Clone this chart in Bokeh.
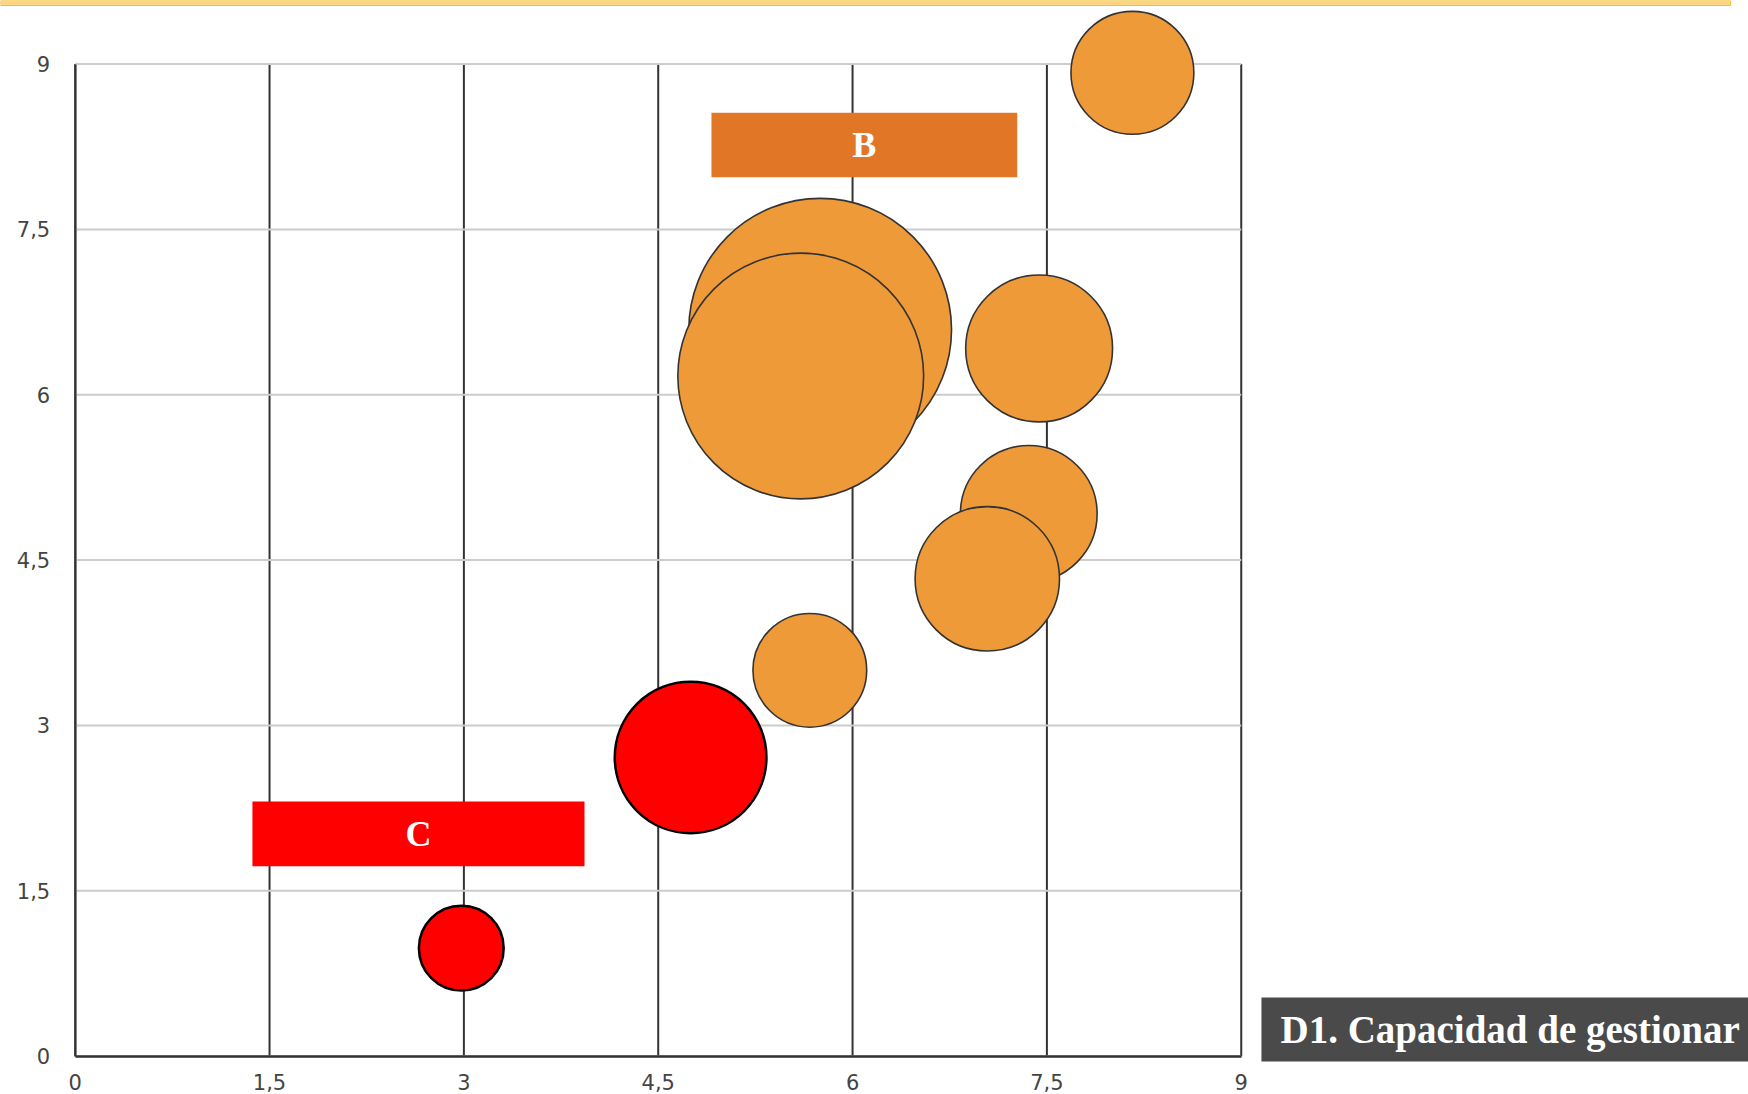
import numpy as np
from bokeh.plotting import figure
from bokeh.models import (LinearAxis, FixedTicker, CustomJSTickFormatter, Range1d,
                          ColumnDataSource)
from bokeh.core.properties import value
from bokeh.embed import file_html
from bokeh.resources import INLINE

# ---------------- data ----------------
x_ticks = [0, 1.5, 3, 4.5, 6, 7.5, 9]
y_ticks = [0, 1.5, 3, 4.5, 6, 7.5, 9]

orange_x = [8.16, 5.75, 5.60, 7.44, 7.36, 7.04, 5.67]
orange_y = [8.92, 6.59, 6.17, 6.42, 4.92, 4.33, 3.50]
orange_size = [21, 96, 84, 30, 26, 29, 18]

red_x = [4.75, 2.98]
red_y = [2.71, 0.98]
red_size = [32, 10]

group_labels = ["B", "C"]
title_text = "D1. Capacidad de gestionar"

# ---------------- layout ----------------
W, H = 1748, 1094
PX_X = 129.56   # px per unit along x
PX_Y = 110.24   # px per unit along y
OX, OY = 74.7, 1055.7  # figure px of data origin (from top-left)
x_start = -OX / PX_X
x_end = (W - OX) / PX_X
y_start = -(H - OY) / PX_Y
y_end = OY / PX_Y

p = figure(width=W, height=H, output_backend="svg", toolbar_location=None,
           x_range=Range1d(x_start, x_end), y_range=Range1d(y_start, y_end),
           x_axis_location=None, y_axis_location=None, min_border=0)
p.grid.visible = False
p.outline_line_color = None
p.background_fill_color = "white"
p.border_fill_color = "white"

# top yellow strip
p.quad(left=[x_start], right=[12.776], top=[y_end], bottom=[y_end - 5 / PX_Y],
       fill_color="#FFD480", line_color="#F2C12E", line_width=1)

# grid: dark verticals, light horizontals
p.segment(x0=x_ticks, y0=0, x1=x_ticks, y1=9, line_color="#333333", line_width=2)
p.segment(x0=0, y0=y_ticks, x1=9, y1=y_ticks, line_color="#CCCCCC", line_width=2)

# bubbles (area proportional to size)
def diam(sizes):
    return list(2 * 42.4 * np.sqrt(np.array(sizes, dtype=float) / 10.0))

src_o = ColumnDataSource(dict(x=orange_x, y=orange_y, d=diam(orange_size)))
src_r = ColumnDataSource(dict(x=red_x, y=red_y, d=diam(red_size)))
p.scatter("x", "y", size="d", source=src_o, marker="circle",
          fill_color="#EF9A39", line_color="#333333", line_width=1.6)
p.scatter("x", "y", size="d", source=src_r, marker="circle",
          fill_color="#FF0000", line_color="#000000", line_width=2.5)

# group label boxes
bx = (4.911, 7.271, 7.974, 8.558)
cx = (1.368, 3.931, 1.724, 2.310)
p.quad(left=[bx[0]], right=[bx[1]], bottom=[bx[2]], top=[bx[3]],
       fill_color="#E07626", line_color=None)
p.quad(left=[cx[0]], right=[cx[1]], bottom=[cx[2]], top=[cx[3]],
       fill_color="#FF0000", line_color=None)
p.text(x=[(bx[0] + bx[1]) / 2, (cx[0] + cx[1]) / 2],
       y=[(bx[2] + bx[3]) / 2, (cx[2] + cx[3]) / 2],
       text=group_labels, text_color="white", text_font=value("Liberation Serif"),
       text_font_style="bold", text_font_size="36px",
       text_align="center", text_baseline="middle")

# title box bottom-right
p.quad(left=[9.156], right=[x_end], bottom=[-0.048], top=[0.532],
       fill_color="#4A4A4A", line_color=None)
p.text(x=[9.303], y=[0.242], text=[title_text], text_color="white",
       text_font=value("Liberation Serif"), text_font_style="bold",
       text_font_size="39px", text_align="left", text_baseline="middle")

# axes
fmt = CustomJSTickFormatter(code="return tick.toString().replace('.', ',')")
xaxis = LinearAxis(fixed_location=0, bounds=(0, 9), ticker=FixedTicker(ticks=x_ticks),
                   formatter=fmt, axis_line_color="#333333", axis_line_width=2.5,
                   major_tick_in=0, major_tick_out=0, minor_tick_line_color=None,
                   major_tick_line_color=None, major_label_standoff=18,
                   major_label_text_font="DejaVu Sans", major_label_text_font_size="21px",
                   major_label_text_color="#444444")
yaxis = LinearAxis(fixed_location=0, bounds=(0, 9), ticker=FixedTicker(ticks=y_ticks),
                   formatter=fmt, axis_line_color="#333333", axis_line_width=2,
                   major_tick_in=0, major_tick_out=0, minor_tick_line_color=None,
                   major_tick_line_color=None, major_label_standoff=25,
                   major_label_text_font="DejaVu Sans", major_label_text_font_size="21px",
                   major_label_text_color="#444444")
p.add_layout(xaxis, "below")
p.add_layout(yaxis, "left")

open("out.html", "w").write(file_html(p, INLINE))
